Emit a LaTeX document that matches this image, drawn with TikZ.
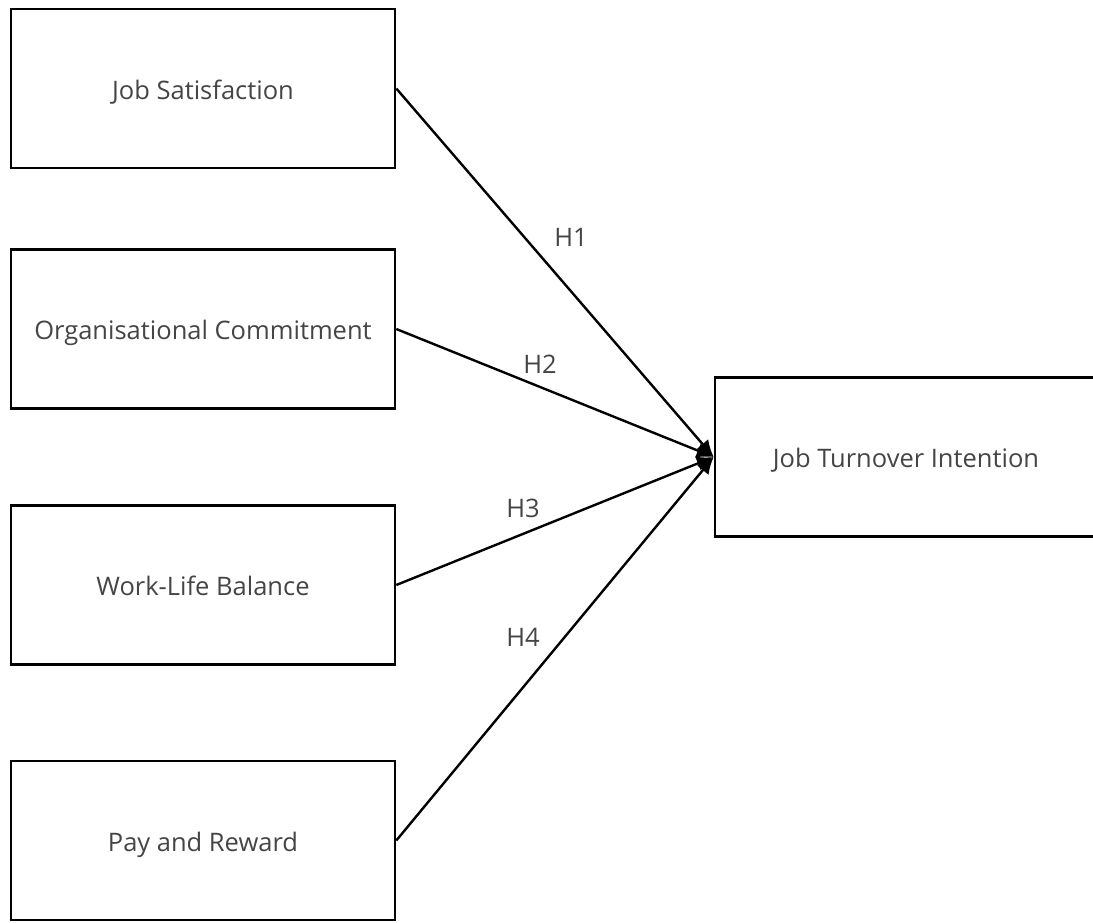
\documentclass[tikz,border=0pt]{standalone}
\usepackage{fontspec}
\setmainfont{Open Sans}
\usetikzlibrary{arrows.meta}
\definecolor{textgray}{HTML}{454545}
\tikzset{
    > = {Latex[length=17pt,width=15pt]},
    factor/.style = {draw, line width=2.6pt, minimum width=384pt, minimum height=159pt,
        inner sep=0pt, text height=21pt, text depth=0pt, text=textgray,
        font=\fontsize{25.5}{30}\selectfont},
    hyp/.style = {->, line width=2.4pt},
    hlabel/.style = {text=textgray, font=\fontsize{25.5}{30}\selectfont}
}
\begin{document}
\begin{tikzpicture}[x=1pt, y=-1pt]
    \useasboundingbox[fill=white] (0, 0) rectangle (1093, 922);

    \node[factor] (js) at (203, 88.5) {Job Satisfaction};
    \node[factor] (oc) at (203, 329) {Organisational Commitment};
    \node[factor] (wlb) at (203, 585) {Work-Life Balance};
    \node[factor] (pr) at (203, 840.5) {Pay and Reward};
    \node[factor, minimum width=382pt] (jti) at (906, 457) {Job Turnover Intention};

    \draw[hyp] (js.east) -- (jti.west);
    \draw[hyp] (oc.east) -- (jti.west);
    \draw[hyp] (wlb.east) -- (jti.west);
    \draw[hyp] (pr.east) -- (jti.west);

    \node[hlabel] (h1) at (571, 237) {H1};
    \node[hlabel] (h2) at (540, 364) {H2};
    \node[hlabel] (h3) at (523, 508) {H3};
    \node[hlabel] (h4) at (523, 637) {H4};
\end{tikzpicture}
\end{document}
